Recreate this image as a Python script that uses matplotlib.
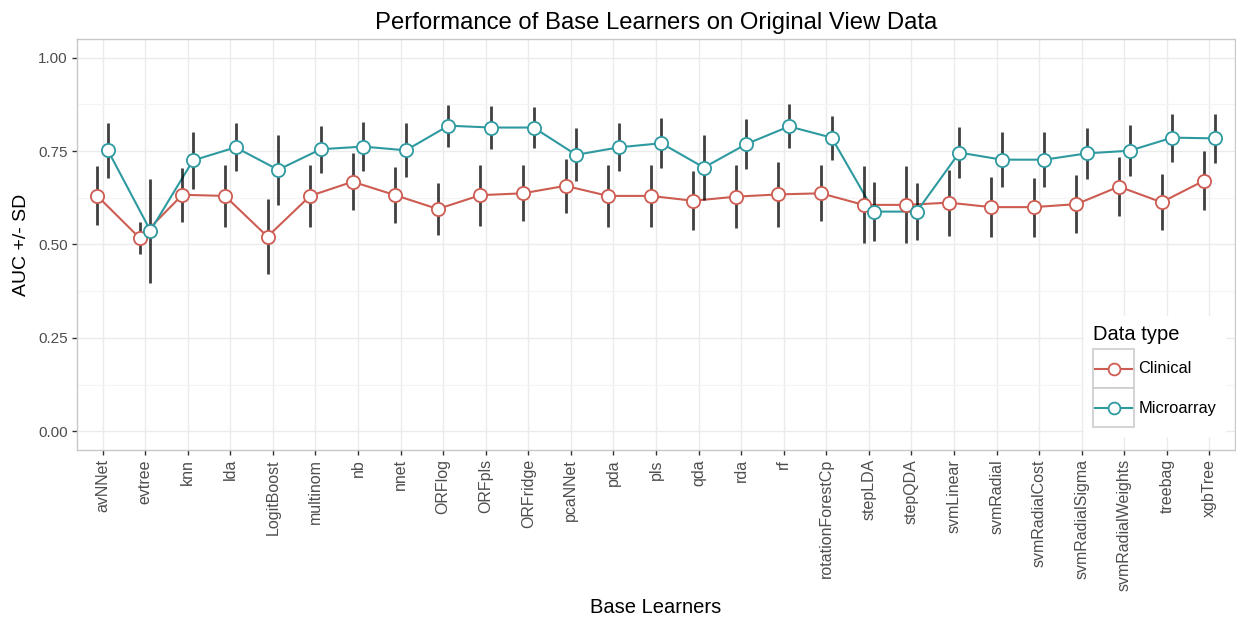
import numpy as np
import matplotlib
matplotlib.use('Agg')
import matplotlib.pyplot as plt
from matplotlib.legend_handler import HandlerBase
from matplotlib.patches import Rectangle
from matplotlib.lines import Line2D

plt.rcParams['font.family'] = ['Liberation Sans', 'DejaVu Sans']

#---------------------- DATA
learners = ["avNNet","evtree","knn","lda","LogitBoost","multinom","nb","nnet",
            "ORFlog","ORFpls","ORFridge","pcaNNet","pda","pls","qda","rda","rf",
            "rotationForestCp","stepLDA","stepQDA","svmLinear","svmRadial",
            "svmRadialCost","svmRadialSigma","svmRadialWeights","treebag","xgbTree"]

clin_auc = [0.630,0.517,0.633,0.630,0.521,0.630,0.668,0.632,0.595,0.632,0.637,0.657,0.630,0.630,
            0.617,0.628,0.634,0.637,0.606,0.606,0.612,0.600,0.600,0.608,0.655,0.613,0.671]
clin_sd  = [0.079,0.043,0.073,0.083,0.100,0.083,0.076,0.075,0.070,0.082,0.075,0.073,0.083,0.083,
            0.079,0.084,0.086,0.075,0.103,0.103,0.088,0.081,0.079,0.078,0.080,0.075,0.079]
micro_auc = [0.752,0.537,0.725,0.760,0.700,0.755,0.762,0.752,0.818,0.813,0.813,0.740,0.760,0.771,
             0.706,0.769,0.816,0.786,0.588,0.588,0.746,0.727,0.727,0.744,0.751,0.786,0.784]
micro_sd  = [0.073,0.139,0.077,0.064,0.093,0.063,0.065,0.072,0.056,0.058,0.055,0.071,0.064,0.067,
             0.088,0.066,0.059,0.059,0.080,0.076,0.069,0.073,0.073,0.068,0.068,0.064,0.065]

series = ["Clinical","Microarray"]

##------------------------PLOTTING
colors = ['#CD5C52','#2E9AA0']
dodge  = [-0.125, 0.125]
means  = [clin_auc, micro_auc]
sds    = [clin_sd, micro_sd]

class KeyHandler(HandlerBase):
    # ggplot-like legend key: grey bordered box with line + open point
    def create_artists(self, legend, orig_handle, xdescent, ydescent, width, height, fontsize, trans):
        box = Rectangle((-xdescent, -ydescent), width, height, facecolor='white',
                        edgecolor='#CCCCCC', linewidth=1.2, transform=trans)
        yc = -ydescent + height/2.
        ln = Line2D([-xdescent+2, -xdescent+width-2], [yc, yc], color=orig_handle.get_color(),
                    linewidth=1.5, transform=trans)
        mk = Line2D([-xdescent+width/2.], [yc], marker='o', markersize=8.5,
                    markerfacecolor='white', markeredgecolor=orig_handle.get_color(),
                    markeredgewidth=1.3, linestyle='none', transform=trans)
        return [box, ln, mk]

fig = plt.figure(figsize=(12.36,6.21), dpi=100)
ax = fig.add_axes([0.0623, 0.2754, 0.9369, 0.6618])

x = np.arange(len(learners))
handles = []
for i in range(len(series)):
    xi = x + dodge[i]
    m = np.array(means[i]); s = np.array(sds[i])
    h, = ax.plot(xi, m, color=colors[i], linewidth=1.5, zorder=3, label=series[i])
    ax.vlines(xi, m-s, m+s, color='black', alpha=0.75, linewidth=2.0, zorder=4)
    ax.plot(xi, m, linestyle='none', marker='o', markersize=9.5, markerfacecolor='white',
            markeredgecolor=colors[i], markeredgewidth=1.3, zorder=5)
    handles.append(h)

ax.set_xlim(-0.6, len(learners)-0.4)
ax.set_ylim(-0.05, 1.05)
ax.set_xticks(x)
ax.set_xticklabels(learners, rotation=90, fontsize=11.5, color='#4D4D4D')
ax.set_yticks([0,0.25,0.5,0.75,1.0])
ax.set_yticklabels(['0.00','0.25','0.50','0.75','1.00'], fontsize=11, color='#4D4D4D')
ax.set_yticks([0.125,0.375,0.625,0.875], minor=True)
ax.tick_params(axis='both', which='major', length=3.5, width=1, color='#333333', pad=3)
ax.tick_params(axis='y', which='minor', length=0)
ax.grid(True, which='major', color='#EBEBEB', linewidth=1.0, zorder=0)
ax.grid(True, which='minor', axis='y', color='#F4F4F4', linewidth=0.8, zorder=0)
ax.set_axisbelow(True)
for sp in ax.spines.values():
    sp.set_color('#C8C8C8'); sp.set_linewidth(1.0)

ax.set_title("Performance of Base Learners on Original View Data", fontsize=17.2, pad=7)
ax.set_xlabel("Base Learners", fontsize=14.5, labelpad=5)
ax.set_ylabel("AUC +/- SD", fontsize=14, labelpad=6)

leg = ax.legend(handles=handles, labels=series, title="Data type", loc='upper left',
                bbox_to_anchor=(0.870, 0.325), handler_map={Line2D: KeyHandler()},
                fontsize=11.8, title_fontsize=14.5, frameon=True, framealpha=1.0,
                edgecolor='white', fancybox=False, borderpad=0.5, labelspacing=0.0,
                handlelength=2.55, handleheight=3.3, handletextpad=0.25, borderaxespad=0)
leg._legend_box.align = "left"
leg._legend_box.sep = 4
leg.set_zorder(10)

plt.savefig('out.png', dpi=100)
